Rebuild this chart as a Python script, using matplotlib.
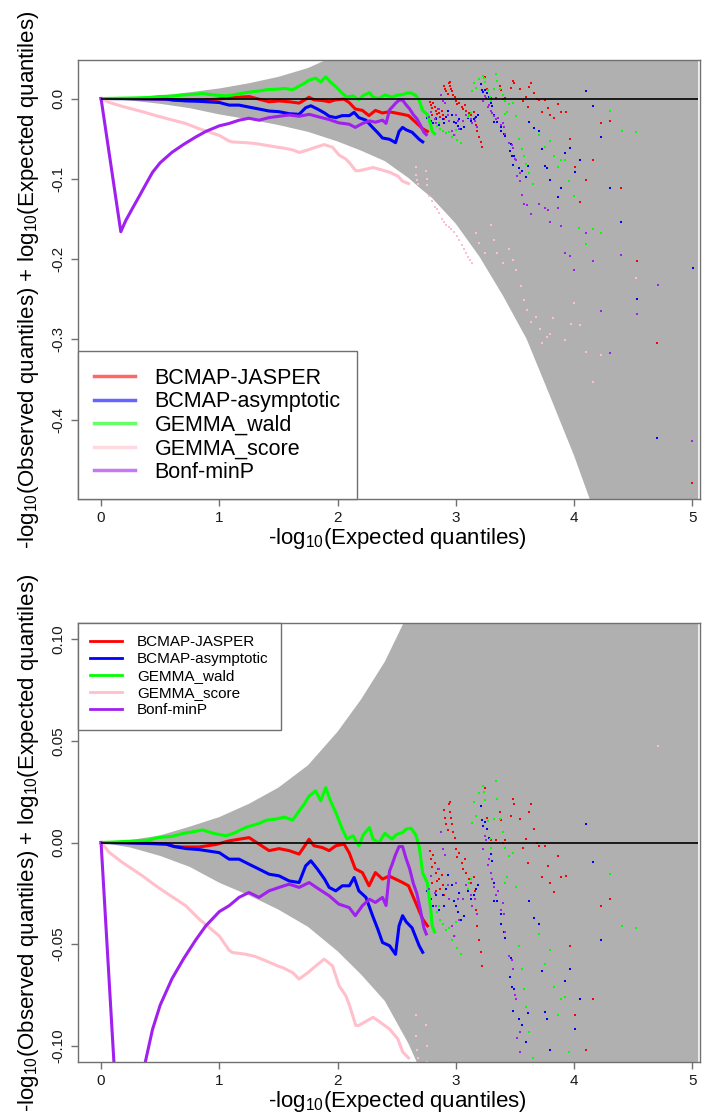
import numpy as np
from matplotlib import pyplot as plt

plt.rcParams['font.family'] = ['Liberation Sans', 'DejaVu Sans']
plt.rcParams['mathtext.fontset'] = 'custom'
plt.rcParams['mathtext.rm'] = 'Liberation Sans'
plt.rcParams['mathtext.it'] = 'Liberation Sans:italic'
plt.rcParams['axes.unicode_minus'] = False

methods = ['BCMAP-JASPER', 'BCMAP-asymptotic', 'GEMMA_wald', 'GEMMA_score', 'Bonf-minP']
colors = ['#FF0000', '#0000FF', '#00FF00', '#FFC0CB', '#A020F0']

# 95% band edges (x = -log10 expected, y = difference)
band_hi = [(0, 0), (0.25, 0.0012), (0.5, 0.0035), (0.75, 0.0078), (1.0, 0.0125),
           (1.25, 0.019), (1.5, 0.027), (1.75, 0.038), (2.0, 0.0545), (2.2, 0.0705),
           (2.4, 0.089), (2.55, 0.107), (2.7, 0.13), (2.9, 0.17), (3.1, 0.22),
           (3.3, 0.29), (3.5, 0.38), (3.7, 0.5), (3.9, 0.65), (4.1, 0.85),
           (4.3, 1.1), (4.6, 1.5), (5.05, 2.0)]
band_lo = [(0, 0), (0.25, -0.0025), (0.5, -0.0066), (0.75, -0.012), (1.0, -0.0198),
           (1.25, -0.026), (1.5, -0.033), (1.75, -0.0415), (2.0, -0.0535), (2.2, -0.065),
           (2.4, -0.078), (2.6, -0.099), (2.7, -0.112), (2.8, -0.124), (3.0, -0.156),
           (3.2, -0.197), (3.4, -0.246), (3.6, -0.30), (3.8, -0.372), (4.0, -0.445),
           (4.13, -0.498), (4.3, -0.58), (4.6, -0.75), (5.05, -1.1)]

# dense part of each curve
jasper_line = [(0, 0), (0.2, 0.0), (0.4, -0.0003), (0.55, -0.0008), (0.62, -0.002),
               (0.7, -0.0022), (0.83, -0.0022), (0.97, -0.001), (1.083, 0.0008),
               (1.167, 0.0016), (1.252, 0.0024), (1.336, -0.0008), (1.421, -0.004),
               (1.505, -0.003), (1.59, -0.004), (1.675, -0.0057), (1.73, -0.001),
               (1.759, 0.0016), (1.8, -0.0016), (1.872, -0.0025), (1.929, -0.004),
               (1.985, -0.0016), (2.055, -0.0008), (2.098, -0.005), (2.15, -0.013),
               (2.21, -0.0148), (2.266, -0.0213), (2.32, -0.0148), (2.38, -0.018),
               (2.436, -0.0165), (2.49, -0.018), (2.55, -0.0197), (2.6, -0.0213),
               (2.66, -0.0295), (2.72, -0.0377), (2.76, -0.041)]
asym_line = [(0, 0), (0.2, -0.0002), (0.4, -0.0005), (0.55, -0.0008), (0.62, -0.002),
             (0.72, -0.003), (0.83, -0.0035), (1.0, -0.005), (1.083, -0.0082),
             (1.167, -0.0082), (1.252, -0.0107), (1.336, -0.0131), (1.421, -0.0156),
             (1.505, -0.0164), (1.59, -0.0189), (1.675, -0.0197), (1.73, -0.0115),
             (1.774, -0.009), (1.83, -0.0131), (1.89, -0.018), (1.929, -0.0221),
             (1.985, -0.0238), (2.04, -0.0213), (2.1, -0.0213), (2.14, -0.0172),
             (2.18, -0.0238), (2.24, -0.027), (2.296, -0.036), (2.34, -0.0426),
             (2.38, -0.0492), (2.44, -0.0508), (2.49, -0.055), (2.52, -0.041),
             (2.55, -0.036), (2.58, -0.039), (2.63, -0.042), (2.69, -0.0508),
             (2.72, -0.054)]
wald_line = [(0, 0), (0.1, 0.0002), (0.2, 0.0005), (0.3, 0.0008), (0.4, 0.0012),
             (0.49, 0.0025), (0.6, 0.003), (0.7, 0.0045), (0.8, 0.0055), (0.857, 0.0062),
             (0.95, 0.0045), (1.055, 0.0033), (1.12, 0.0045), (1.225, 0.0074),
             (1.337, 0.0094), (1.4, 0.011), (1.478, 0.0115), (1.55, 0.0125), (1.62, 0.011),
             (1.675, 0.0155), (1.72, 0.019), (1.76, 0.0229), (1.815, 0.0254),
             (1.858, 0.0205), (1.9, 0.027), (1.94, 0.0205), (1.985, 0.0148), (2.04, 0.0066),
             (2.08, 0.0017), (2.13, 0.0033), (2.18, -0.0016), (2.22, 0.004), (2.27, 0.0074),
             (2.3, 0.0016), (2.35, 0.0), (2.4, 0.0045), (2.46, 0.0017), (2.5, 0.004),
             (2.55, 0.0049), (2.58, 0.0066), (2.62, 0.007), (2.66, 0.004), (2.69, -0.002),
             (2.72, -0.015), (2.76, -0.02), (2.79, -0.034), (2.8, -0.041), (2.82, -0.044)]
score_line = [(0, 0), (0.07, -0.0049), (0.18, -0.0098), (0.265, -0.0131), (0.35, -0.0164),
              (0.463, -0.0213), (0.547, -0.0246), (0.716, -0.0311), (0.83, -0.0377),
              (1.0, -0.046), (1.083, -0.053), (1.11, -0.0541), (1.224, -0.055), (1.3, -0.056),
              (1.393, -0.0582), (1.505, -0.061), (1.534, -0.0615), (1.62, -0.064),
              (1.675, -0.0672), (1.75, -0.064), (1.816, -0.0607), (1.887, -0.0574),
              (1.957, -0.0607), (2.013, -0.0705), (2.07, -0.0754), (2.1, -0.08),
              (2.154, -0.09), (2.18, -0.09), (2.24, -0.088), (2.3, -0.086), (2.35, -0.088),
              (2.44, -0.0918), (2.51, -0.0967), (2.55, -0.103), (2.6, -0.106)]
minp_line = [(0, 0), (0.167, -0.166), (0.209, -0.152), (0.265, -0.137), (0.322, -0.122),
             (0.378, -0.107), (0.435, -0.092), (0.5, -0.08), (0.6, -0.067), (0.7, -0.057),
             (0.8, -0.048), (0.886, -0.041), (1.0, -0.034), (1.083, -0.0311),
             (1.167, -0.027), (1.25, -0.0246), (1.336, -0.027), (1.42, -0.0238),
             (1.505, -0.0221), (1.59, -0.0205), (1.675, -0.0221), (1.76, -0.0197),
             (1.844, -0.023), (1.929, -0.0262), (2.01, -0.0303), (2.098, -0.032),
             (2.15, -0.036), (2.21, -0.0311), (2.27, -0.0279), (2.32, -0.0295),
             (2.38, -0.027), (2.41, -0.031), (2.44, -0.014), (2.46, -0.011), (2.49, -0.006),
             (2.52, -0.002), (2.55, -0.002), (2.58, -0.008), (2.61, -0.013), (2.64, -0.02),
             (2.67, -0.025), (2.7, -0.033), (2.73, -0.042), (2.75, -0.045)]

# sparse tail of each curve
jasper_dots = [(2.78, -0.004), (2.79, -0.008), (2.8, -0.012), (2.81, -0.006), (2.82, -0.01),
               (2.83, -0.015), (2.84, -0.019), (2.85, -0.013), (2.86, -0.018), (2.87, -0.023),
               (2.88, -0.016), (2.89, -0.021), (2.9, -0.026), (2.8, -0.02), (2.83, -0.024),
               (2.9, 0.016), (2.91, 0.012), (2.92, 0.009), (2.93, 0.006), (2.94, 0.019),
               (2.95, 0.02), (2.955, 0.015), (2.96, 0.012), (2.97, 0.009), (2.98, 0.005),
               (2.99, 0.002), (3.0, -0.003), (3.01, -0.007), (3.03, -0.005), (3.05, -0.01),
               (3.06, -0.013), (3.08, -0.008), (3.09, -0.015), (3.11, -0.018), (3.13, -0.02),
               (3.15, -0.017), (3.16, -0.024), (3.17, -0.033), (3.18, -0.041), (3.2, -0.048),
               (3.21, -0.054), (3.22, -0.061), (3.25, 0.027), (3.26, 0.012), (3.3, 0.001),
               (3.34, 0.001), (3.375, 0.015), (3.38, 0.011), (3.4, 0.0), (3.42, 0.001),
               (3.47, 0.013), (3.48, 0.0216), (3.49, 0.019), (3.54, 0.0115), (3.565, -0.0025),
               (3.59, 0.0016), (3.61, -0.01), (3.62, 0.0148), (3.635, 0.019), (3.66, 0.0068),
               (3.69, 0.0), (3.7, -0.0016), (3.73, -0.017), (3.75, -0.0016), (3.78, -0.0115),
               (3.8, -0.02), (3.83, -0.0246), (3.86, -0.0066), (3.89, -0.017), (3.93, -0.0164),
               (3.965, -0.051), (4.004, -0.085), (4.05, -0.129), (4.1, -0.102), (4.16, -0.077),
               (4.23, -0.031), (4.3, -0.028), (4.4, -0.112), (4.53, -0.202), (4.7, -0.305),
               (5.0, -0.479)]
asym_dots = [(2.76, -0.024), (2.79, -0.028), (2.81, -0.031), (2.83, -0.026), (2.86, -0.033),
             (2.89, -0.026), (2.9, -0.031), (2.92, -0.023), (2.93, -0.016), (2.945, -0.028),
             (2.97, -0.021), (2.985, -0.029), (3.0, -0.031), (3.015, -0.034), (3.03, -0.025),
             (3.04, -0.038), (3.06, -0.028), (3.07, -0.036), (3.085, -0.021), (3.1, -0.024),
             (3.125, -0.028), (3.15, -0.026), (3.17, -0.023), (3.19, -0.021), (3.21, 0.018),
             (3.22, 0.011), (3.23, 0.008), (3.245, 0.01), (3.26, 0.0066), (3.28, 0.002),
             (3.3, -0.0057), (3.31, -0.009), (3.32, -0.02), (3.325, -0.029), (3.35, -0.029),
             (3.38, -0.035), (3.385, -0.04), (3.41, -0.044), (3.42, -0.047), (3.45, -0.056),
             (3.47, -0.057), (3.46, -0.066), (3.475, -0.071), (3.495, -0.072), (3.5, -0.075),
             (3.485, -0.083), (3.536, -0.087), (3.56, -0.09), (3.59, -0.098), (3.61, -0.084),
             (3.62, -0.029), (3.66, -0.037), (3.7, -0.04), (3.725, -0.063), (3.75, -0.0836),
             (3.775, -0.087), (3.8, -0.102), (3.86, -0.123), (3.89, -0.112), (3.925, -0.068),
             (3.965, -0.062), (4.004, -0.092), (4.05, -0.077), (4.1, 0.009), (4.16, -0.0095),
             (4.227, -0.048), (4.3, -0.112), (4.4, -0.154), (4.53, -0.25), (4.7, -0.4226),
             (5.01, -0.211)]
wald_dots = [(2.84, -0.034), (2.86, -0.031), (2.87, -0.038), (2.89, -0.04), (2.92, -0.043),
             (2.94, -0.042), (2.97, -0.048), (2.99, -0.046), (3.006, -0.052), (3.04, -0.055),
             (3.0, -0.039), (3.1, -0.023), (3.11, -0.02), (3.13, -0.018), (3.136, 0.0098),
             (3.155, 0.0197), (3.17, 0.013), (3.198, 0.0246), (3.226, 0.0279), (3.235, 0.025),
             (3.245, 0.021), (3.27, 0.0107), (3.29, 0.0016), (3.3, -0.0025), (3.32, 0.0115),
             (3.34, 0.0303), (3.35, 0.0213), (3.37, 0.0115), (3.395, 0.005), (3.415, -0.0025),
             (3.42, -0.0197), (3.435, -0.017), (3.45, -0.0066), (3.48, -0.005), (3.51, -0.022),
             (3.536, -0.051), (3.56, -0.0623), (3.58, -0.072), (3.59, -0.081), (3.62, -0.093),
             (3.65, -0.106), (3.7, -0.045), (3.75, -0.06), (3.8, -0.053), (3.83, -0.071),
             (3.86, -0.085), (3.89, -0.077), (3.925, -0.076), (3.96, -0.103), (4.0, -0.122),
             (4.04, -0.161), (4.1, -0.181), (4.16, -0.163), (4.23, -0.167), (4.3, -0.0156),
             (4.405, -0.041), (4.52, -0.042)]
score_dots = [(2.66, -0.085), (2.665, -0.095), (2.67, -0.102), (2.68, -0.106), (2.75, -0.09),
              (2.755, -0.1), (2.76, -0.108), (2.77, -0.122), (2.8, -0.128), (2.82, -0.135),
              (2.84, -0.138), (2.86, -0.143), (2.88, -0.15), (2.9, -0.154), (2.92, -0.157),
              (2.94, -0.16), (2.96, -0.163), (2.985, -0.166), (3.01, -0.171), (3.03, -0.176),
              (3.05, -0.182), (3.07, -0.187), (3.09, -0.193), (3.1, -0.197), (3.12, -0.201),
              (3.14, -0.205), (3.17, -0.168), (3.2, -0.18), (3.25, -0.193), (3.295, -0.158),
              (3.32, -0.176), (3.35, -0.193), (3.395, -0.205), (3.45, -0.187), (3.48, -0.201),
              (3.51, -0.214), (3.55, -0.234), (3.58, -0.251), (3.6, -0.263), (3.64, -0.279),
              (3.68, -0.272), (3.71, -0.287), (3.73, -0.304), (3.77, -0.297), (3.8, -0.293),
              (3.82, -0.274), (3.925, -0.301), (3.97, -0.281), (4.0, -0.255), (4.05, -0.282),
              (4.1, -0.316), (4.16, -0.353), (4.23, -0.319), (4.52, -0.224), (4.71, 0.0475)]
minp_dots = [(2.775, -0.023), (2.79, -0.0164), (2.82, -0.025), (2.83, -0.031), (2.86, -0.013),
             (2.873, 0.005), (2.888, -0.0033), (2.91, -0.006), (2.93, -0.021), (2.944, -0.028),
             (2.966, -0.041), (2.986, -0.046), (3.0, -0.02), (3.015, -0.028), (3.03, -0.038),
             (3.06, -0.028), (3.09, -0.021), (3.13, -0.026), (3.14, -0.031), (3.16, -0.028),
             (3.18, -0.035), (3.226, -0.0033), (3.246, 0.0033), (3.255, 0.001), (3.27, -0.011),
             (3.28, -0.008), (3.3, -0.015), (3.31, -0.018), (3.325, -0.022), (3.34, -0.026),
             (3.36, -0.024), (3.38, -0.033), (3.395, -0.03), (3.41, -0.035), (3.42, -0.044),
             (3.45, -0.056), (3.475, -0.058), (3.485, -0.062), (3.5, -0.075), (3.51, -0.077),
             (3.52, -0.096), (3.54, -0.093), (3.54, -0.103), (3.56, -0.1205), (3.58, -0.131),
             (3.6, -0.133), (3.64, -0.144), (3.7, -0.131), (3.75, -0.137), (3.78, -0.139),
             (3.8, -0.154), (3.86, -0.137), (3.89, -0.159), (3.925, -0.192), (3.965, -0.196),
             (4.0, -0.214), (4.1, -0.167), (4.16, -0.203), (4.23, -0.265), (4.3, -0.317),
             (4.4, -0.195), (4.53, -0.268), (4.71, -0.232), (5.0, -0.427)]

curves = [(jasper_line, jasper_dots), (asym_line, asym_dots), (wald_line, wald_dots),
          (score_line, score_dots), (minp_line, minp_dots)]

frame_col = '#707070'
band_col = '#B0B0B0'
xlab = r'-log$_{\mathrm{10}}$(Expected quantiles)'
ylab = r'-log$_{\mathrm{10}}$(Observed quantiles) + log$_{\mathrm{10}}$(Expected quantiles)'


def draw_panel(ax, ylim, yticks, ytick_labels):
    # confidence band
    hx, hy = zip(*band_hi)
    lx, ly = zip(*band_lo)
    ax.fill(list(hx) + list(lx[::-1]), list(hy) + list(ly[::-1]),
            color=band_col, lw=0, zorder=1)
    for (line, dots), c in zip(curves, colors):
        x, y = zip(*line)
        ax.plot(x, y, color=c, lw=2.2, solid_joinstyle='round', zorder=2)
        dx, dy = zip(*dots)
        ax.plot(dx, dy, ls='none', marker='s', ms=1.8, mew=0, color=c, zorder=2)
    ax.hlines(0, 0, 5.05, color='black', lw=1.2, zorder=3)

    ax.set_xlim(-0.195, 5.065)
    ax.set_ylim(*ylim)
    ax.set_xticks([0, 1, 2, 3, 4, 5])
    ax.set_yticks(yticks)
    ax.set_yticklabels(ytick_labels)
    ax.tick_params(direction='out', length=5, width=1, color=frame_col,
                   labelsize=11, labelcolor='#1a1a1a')
    ax.tick_params(axis='x', pad=3.5)
    ax.tick_params(axis='y', pad=4, labelrotation=90)
    for lab in ax.get_yticklabels():
        lab.set_va('center')
    for s in ax.spines.values():
        s.set_color(frame_col)
        s.set_linewidth(1)
    ax.set_xlabel(xlab, fontsize=16)
    ax.xaxis.set_label_coords(0.514, -0.062)
    ax.set_ylabel(ylab, fontsize=16)
    ax.yaxis.set_label_coords(-0.06, 0.5)


fig = plt.figure(figsize=(7.09, 11.16), dpi=100)
ax1 = fig.add_axes([78 / 709, 1 - 499 / 1116, 622 / 709, 439 / 1116])
ax2 = fig.add_axes([78 / 709, 1 - 1062 / 1116, 622 / 709, 439 / 1116])

draw_panel(ax1, (-0.499, 0.048), [0.0, -0.1, -0.2, -0.3, -0.4],
           ['0.0', '-0.1', '-0.2', '-0.3', '-0.4'])
draw_panel(ax2, (-0.108, 0.108), [0.10, 0.05, 0.0, -0.05, -0.10],
           ['0.10', '0.05', '0.00', '-0.05', '-0.10'])

# legends: faded handles on top, plain on bottom
h1 = [plt.Line2D([], [], color=c, lw=2.5, alpha=0.6) for c in colors]
leg1 = ax1.legend(h1, methods, loc='lower left', bbox_to_anchor=(0, 0), borderaxespad=0,
                  fontsize=15.5, handlelength=1.9, handletextpad=0.9, labelspacing=0.12,
                  borderpad=0.75, fancybox=False, framealpha=1, edgecolor=frame_col)
leg1.get_frame().set_linewidth(1)
h2 = [plt.Line2D([], [], color=c, lw=2) for c in colors]
leg2 = ax2.legend(h2, methods, loc='upper left', bbox_to_anchor=(0, 1), borderaxespad=0,
                  fontsize=11, handlelength=2.05, handletextpad=1.0, labelspacing=0.2,
                  borderpad=0.8, fancybox=False, framealpha=1, edgecolor=frame_col)
leg2.get_frame().set_linewidth(1)

fig.savefig('out.png', dpi=100)
